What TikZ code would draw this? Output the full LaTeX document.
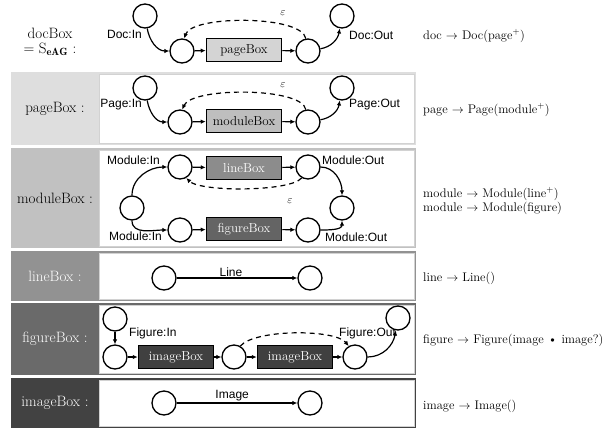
\documentclass[tikz,border=0pt]{standalone}
\usepackage{fontspec}
\usetikzlibrary{arrows.meta}
\newfontfamily\arialfont{Liberation Sans}
\definecolor{pgcell}{RGB}{222,222,222}
\definecolor{mdcell}{RGB}{193,193,193}
\definecolor{lncell}{RGB}{146,146,146}
\definecolor{fgcell}{RGB}{106,106,106}
\definecolor{imcell}{RGB}{66,66,66}
\definecolor{pgbox}{RGB}{212,212,212}
\definecolor{mdbox}{RGB}{190,190,190}
\definecolor{lnbox}{RGB}{140,140,140}
\definecolor{fgbox}{RGB}{100,100,100}
\definecolor{imbox}{RGB}{64,64,64}
\tikzset{
  st/.style={circle,draw,line width=1.3pt,minimum size=24pt,inner sep=0pt,fill=white},
  bx/.style={draw,line width=1.5pt,minimum width=75pt,minimum height=23pt,inner sep=0pt,
    font=\fontsize{13}{15}\selectfont},
  arr/.style={line width=1.2pt,-{Latex[length=5pt,width=4.5pt]}},
  dsh/.style={arr,dash pattern=on 5pt off 4pt},
  sl/.style={font=\arialfont\fontsize{12}{14}\selectfont,inner sep=1pt},
  eps/.style={font=\fontsize{11}{12}\selectfont,inner sep=0pt},
  cell/.style={font=\fontsize{15}{17}\selectfont,inner sep=0pt},
  rl/.style={anchor=west,inner sep=0pt,font=\fontsize{12.5}{14}\selectfont}
}

\begin{document}
\begin{tikzpicture}[x=1pt,y=1pt]
  \useasboundingbox (0,0) rectangle (616,-429);
  \foreach \ya/\yb/\cl/\tc/\nm in {72/145/pgcell/black/pageBox,148/248/mdcell/black/moduleBox,
      251/301/lncell/white/lineBox,303/375/fgcell/white/figureBox,378/428/imcell/white/imageBox}{
    \fill[\cl] (11,-\ya) rectangle (416,-\yb);
    \filldraw[fill=white,draw=gray!35,line width=0.5pt] (99,-\ya-2) rectangle (414,-\yb+2);
    \node[cell,text=\tc] (cell-\nm) at (55,{-(\ya+\yb)/2}) {\nm\ :};
  }

  \node[cell] (docname) at (50,-33) {docBox};
  \node[cell] (docsub) at (50,-49) {= S$_{\mathbf{eAG}}$ :};
  \node[st] (d0) at (145,-16) {};
  \node[st] (d1) at (182,-51) {};
  \node[bx,fill=pgbox] (dbox) at (244,-50) {pageBox};
  \node[st] (d2) at (308,-51) {};
  \node[st] (d3) at (342,-16) {};
  \draw[arr] (d0) to[out=-80,in=180] (d1);
  \draw[arr] (d1) -- (dbox);
  \draw[arr] (dbox) -- (d2);
  \draw[arr] (d2) to[out=10,in=-100] (d3);
  \draw[dsh] (d2.100) .. controls (302,-15) and (192,-15) .. (d1.80);
  \node[eps] (deps) at (283,-13) {$\varepsilon$};
  \node[sl,anchor=east] (docin) at (143,-34) {Doc:In};
  \node[sl,anchor=west] (docout) at (348,-35) {Doc:Out};

  \node[st] (p0) at (145,-88) {};
  \node[st] (p1) at (180,-122) {};
  \node[bx,fill=mdbox] (pbox) at (244,-121) {moduleBox};
  \node[st] (p2) at (308,-122) {};
  \node[st] (p3) at (342,-88) {};
  \draw[arr] (p0) to[out=-80,in=180] (p1);
  \draw[arr] (p1) -- (pbox);
  \draw[arr] (pbox) -- (p2);
  \draw[arr] (p2) to[out=10,in=-100] (p3);
  \draw[dsh] (p2.100) .. controls (302,-87) and (192,-87) .. (p1.80);
  \node[eps] (peps) at (283,-85) {$\varepsilon$};
  \node[sl,anchor=east] (pagein) at (143,-105) {Page:In};
  \node[sl,anchor=west] (pageout) at (348,-105) {Page:Out};

  \node[st] (m0) at (132,-208) {};
  \node[st] (m1) at (180,-167) {};
  \node[bx,fill=lnbox,text=white] (mline) at (244,-168) {lineBox};
  \node[st] (m2) at (308,-167) {};
  \node[st] (m3) at (180,-230) {};
  \node[bx,fill=fgbox,text=white] (mfig) at (244,-229) {figureBox};
  \node[st] (m4) at (308,-230) {};
  \node[st] (m5) at (342,-208) {};
  \draw[arr] (m0) to[out=90,in=180] (m1);
  \draw[arr] (m0) to[out=-90,in=180] (m3);
  \draw[arr] (m1) -- (mline);
  \draw[arr] (mline) -- (m2);
  \draw[arr] (m3) -- (mfig);
  \draw[arr] (mfig) -- (m4);
  \draw[arr] (m2) to[out=0,in=90] (m5);
  \draw[arr] (m4) to[out=0,in=-90] (m5);
  \draw[dsh] (m2.-120) .. controls (290,-192) and (200,-192) .. (m1.-60);
  \node[eps] (meps) at (290,-201) {$\varepsilon$};
  \node[sl,anchor=east] (modin1) at (161,-160) {Module:In};
  \node[sl,anchor=west] (modout1) at (321,-160) {Module:Out};
  \node[sl,anchor=east] (modin2) at (163,-236) {Module:In};
  \node[sl,anchor=west] (modout2) at (324,-237) {Module:Out};

  \node[st] (l0) at (164,-278) {};
  \node[st] (l1) at (310,-278) {};
  \draw[arr] (l0) -- node[sl,above,pos=0.45] (linelbl) {Line} (l1);

  \node[st] (g0) at (115,-319) {};
  \node[st] (g1) at (115,-357) {};
  \node[bx,fill=imbox,text=white] (gimg1) at (176,-357) {imageBox};
  \node[st] (g2) at (234,-357) {};
  \node[bx,fill=imbox,text=white] (gimg2) at (295,-357) {imageBox};
  \node[st] (g3) at (355,-357) {};
  \node[sl,anchor=west] (figin) at (128,-333) {Figure:In};
  \node[sl,anchor=west] (figout) at (338,-333) {Figure:Out};
  \node[st] (g4) at (398,-318) {};
  \draw[arr] (g0) -- (g1);
  \draw[arr] (g1) -- (gimg1);
  \draw[arr] (gimg1) -- (g2);
  \draw[arr] (g2) -- (gimg2);
  \draw[arr] (gimg2) -- (g3);
  \draw[arr] (g3) to[out=0,in=-100] (g4);
  \draw[dsh] (g2.60) .. controls (255,-329) and (335,-329) .. (g3.120);

  \node[st] (i0) at (164,-403) {};
  \node[st] (i1) at (310,-403) {};
  \draw[arr] (i0) -- node[sl,above,pos=0.46] (imglbl) {Image} (i1);

  \node[rl] (rdoc) at (423,-36) {doc $\rightarrow$ Doc(page\textsuperscript{+})};
  \node[rl] (rpage) at (423,-110) {page $\rightarrow$ Page(module\textsuperscript{+})};
  \node[rl] (rmod1) at (423,-194) {module $\rightarrow$ Module(line\textsuperscript{+})};
  \node[rl] (rmod2) at (423,-208) {module $\rightarrow$ Module(figure)};
  \node[rl] (rline) at (423,-278) {line $\rightarrow$ Line()};
  \node[rl] (rfig) at (423,-340) {figure $\rightarrow$ Figure(image \textbullet\ image?)};
  \node[rl] (rimg) at (423,-406) {image $\rightarrow$ Image()};
\end{tikzpicture}
\end{document}
